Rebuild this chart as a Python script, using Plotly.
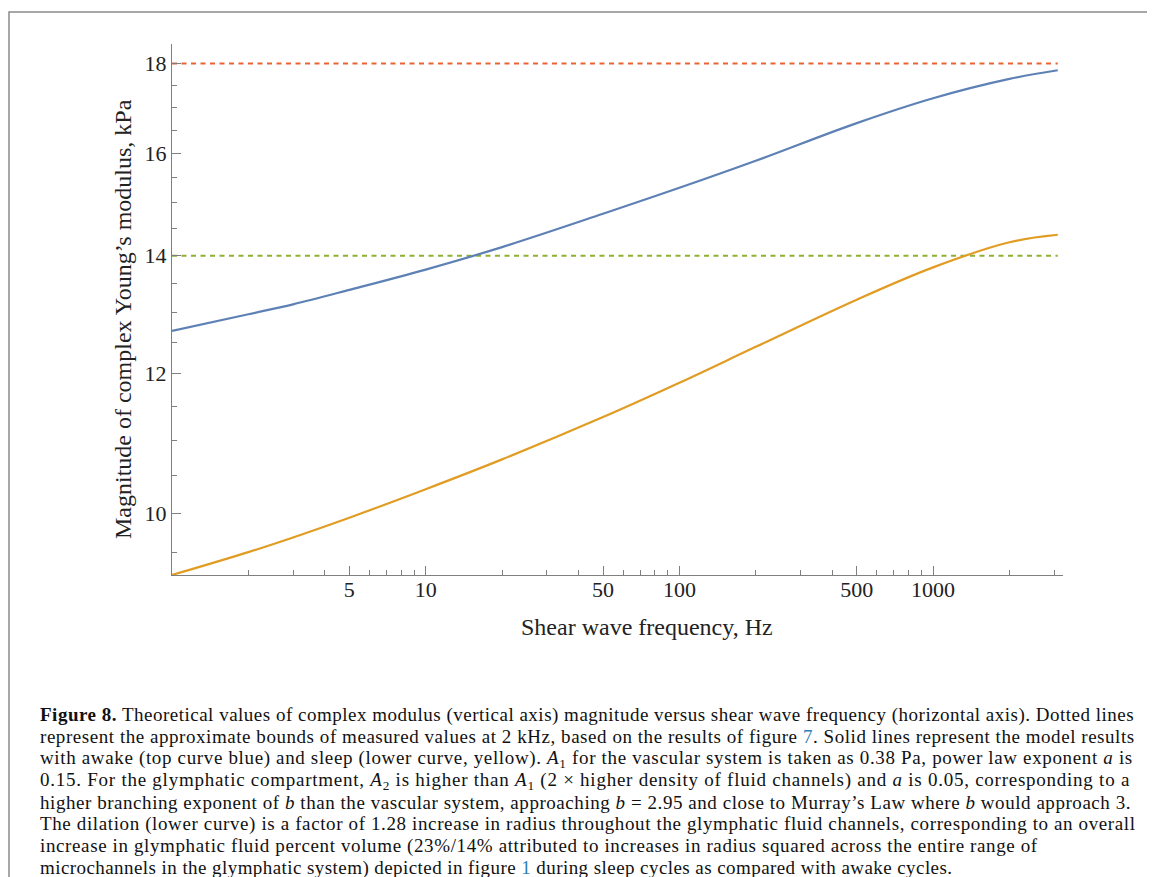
import plotly.graph_objects as go

# ---- data ----
freq_hz = [1, 2, 3, 5, 10, 20, 50, 100, 200, 500, 1000, 2000, 3100]
awake_kpa = [12.69, 12.97, 13.14, 13.39, 13.75, 14.16, 14.79, 15.30, 15.85, 16.65, 17.20, 17.64, 17.84]
sleep_kpa = [9.226, 9.506, 9.690, 9.943, 10.32, 10.73, 11.34, 11.86, 12.43, 13.22, 13.79, 14.25, 14.39]
bound_freq = [1, 3100]
upper_bound = [18, 18]
lower_bound = [14, 14]

x_major = [5, 10, 50, 100, 500, 1000]
x_major_text = ["5", "10", "50", "100", "500", "1000"]
x_minor = [2, 3, 4, 6, 7, 8, 9, 20, 30, 40, 60, 70, 80, 90,
           200, 300, 400, 600, 700, 800, 900, 2000, 3000]
y_major = [10, 12, 14, 16, 18]
y_major_text = ["10", "12", "14", "16", "18"]
y_minor = [9.5, 10.5, 11, 11.5, 12.5, 13, 13.5, 14.5, 15, 15.5, 16.5, 17, 17.5]

caption_lines = [
    "<b>Figure 8.</b> Theoretical values of complex modulus (vertical axis) magnitude versus shear wave frequency (horizontal axis). Dotted lines",
    "represent the approximate bounds of measured values at 2 kHz, based on the results of figure <span style='color:#2c7fb8'>7</span>. Solid lines represent the model results",
    "with awake (top curve blue) and sleep (lower curve, yellow). <i>A</i><sub>1</sub> for the vascular system is taken as 0.38 Pa, power law exponent <i>a</i> is",
    "0.15. For the glymphatic compartment, <i>A</i><sub>2</sub> is higher than <i>A</i><sub>1</sub> (2 × higher density of fluid channels) and <i>a</i> is 0.05, corresponding to a",
    "higher branching exponent of <i>b</i> than the vascular system, approaching <i>b</i> = 2.95 and close to Murray’s Law where <i>b</i> would approach 3.",
    "The dilation (lower curve) is a factor of 1.28 increase in radius throughout the glymphatic fluid channels, corresponding to an overall",
    "increase in glymphatic fluid percent volume (23%/14% attributed to increases in radius squared across the entire range of",
    "microchannels in the glymphatic system) depicted in figure <span style='color:#2c7fb8'>1</span> during sleep cycles as compared with awake cycles.",
]
# per-line letter spacing (px) to approximate the justified caption
caption_spacing = [0.5, 0.55, 0.65, 0.75, 0.55, 0.62, 0.62, 0.43]

# ---- layout geometry (page pixels; the page body adds an 8px offset) ----
OFF = 8
FW, FH = 1139, 869
L, R, T, B = 172 - OFF, 1063 - OFF, 44 - OFF, 575 - OFF
PW, PH = R - L, B - T


def px(x):
    return (x - OFF - L) / PW


def py(y):
    return (B - (y - OFF)) / PH


SERIF = "Liberation Serif, Times New Roman, serif"
BLUE, ORANGE, GREEN, RED = "#5E81B5", "#E19C24", "#8FB032", "#EB6235"
AX = "#7f7f7f"

fig = go.Figure()
fig.add_trace(go.Scatter(x=bound_freq, y=upper_bound, mode="lines",
                         line=dict(color=RED, width=2, dash="5px,4.5px"), hoverinfo="skip"))
fig.add_trace(go.Scatter(x=bound_freq, y=lower_bound, mode="lines",
                         line=dict(color=GREEN, width=2, dash="5px,4.5px"), hoverinfo="skip"))
fig.add_trace(go.Scatter(x=freq_hz, y=awake_kpa, mode="lines", line_shape="spline",
                         line=dict(color=BLUE, width=2.2)))
fig.add_trace(go.Scatter(x=freq_hz, y=sleep_kpa, mode="lines", line_shape="spline",
                         line=dict(color=ORANGE, width=2.2)))

axis_common = dict(showgrid=False, zeroline=False, showline=True, linecolor=AX,
                   linewidth=1.2, ticks="inside", tickcolor=AX, tickwidth=1,
                   ticklen=9, tickfont=dict(family=SERIF, size=22, color="#222222"),
                   mirror=False)

fig.update_xaxes(type="log", range=[0, 3.512], tickmode="array", tickvals=x_major,
                 ticktext=x_major_text, ticklabelstandoff=-6,
                 minor=dict(tickmode="array", tickvals=x_minor, ticks="inside",
                            ticklen=5, tickcolor=AX, tickwidth=1),
                 **axis_common)
fig.update_yaxes(type="log", range=[0.965, 1.2663], tickmode="array", tickvals=y_major,
                 ticktext=y_major_text,
                 minor=dict(tickmode="array", tickvals=y_minor, ticks="inside",
                            ticklen=5, tickcolor=AX, tickwidth=1),
                 **axis_common)

annotations = [
    dict(text="Shear wave frequency, Hz", x=px(647), y=py(627), xref="paper", yref="paper",
         showarrow=False, xanchor="center", yanchor="middle",
         font=dict(family=SERIF, size=24, color="#222222")),
    dict(text="Magnitude of complex Young’s modulus, kPa", x=px(123), y=py(319),
         xref="paper", yref="paper", showarrow=False, xanchor="center", yanchor="middle",
         textangle=-90, font=dict(family=SERIF, size=24, color="#222222")),
]
line_y0, line_dy = 715, 21.85
for i, t in enumerate(caption_lines):
    annotations.append(dict(
        text=f"<span style='letter-spacing:{caption_spacing[i]}px'>{t}</span>",
        x=px(38), y=py(line_y0 + i * line_dy), xref="paper", yref="paper",
        showarrow=False, xanchor="left", yanchor="middle", align="left",
        font=dict(family=SERIF, size=19, color="#111111")))

fig.update_layout(
    width=FW, height=FH,
    margin=dict(l=L, r=FW - R, t=T, b=FH - B, pad=0),
    paper_bgcolor="white", plot_bgcolor="white",
    showlegend=False,
    annotations=annotations,
    shapes=[dict(type="rect", xref="paper", yref="paper",
                 x0=px(9), x1=px(1175), y0=py(905), y1=py(12),
                 line=dict(color="#8a8a8a", width=1.5), fillcolor="rgba(0,0,0,0)")],
)

fig.write_html("out.html")
